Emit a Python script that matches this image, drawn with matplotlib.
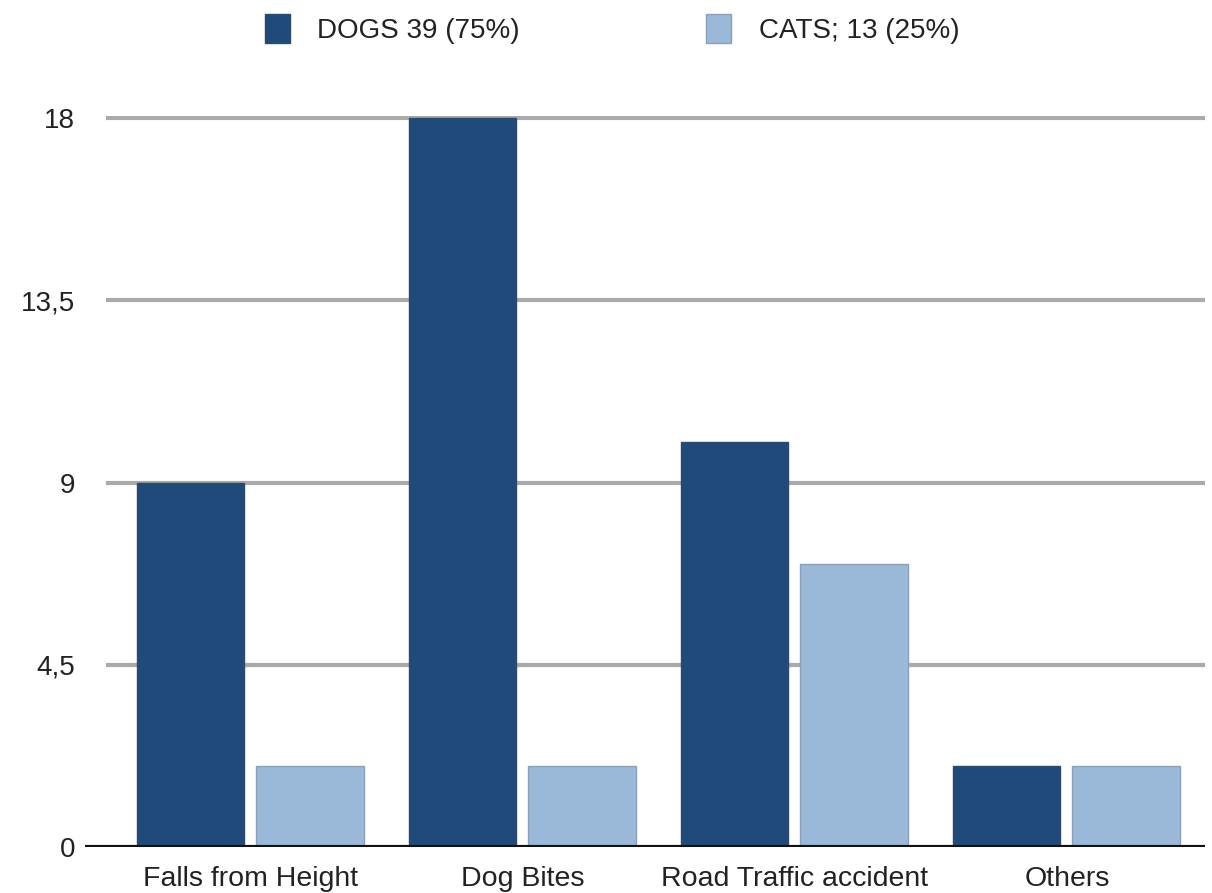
#!/usr/bin/env python3
"""Dog vs cat injuries by cause - grouped bar chart."""

import numpy as np
import matplotlib
matplotlib.use("Agg")
import matplotlib.pyplot as plt
from matplotlib.patches import Patch

plt.rcParams["font.family"] = ["Liberation Sans", "DejaVu Sans"]

categories = ["Falls from Height", "Dog Bites", "Road Traffic accident", "Others"]
dogs = [9, 18, 10, 2]
cats = [2, 2, 7, 2]
series_labels = ["DOGS 39 (75%)", "CATS; 13 (25%)"]
y_ticks = [0, 4.5, 9, 13.5, 18]
y_tick_labels = ["0", "4,5", "9", "13,5", "18"]

dog_color = "#1f4a7a"
cat_color = "#9ab8d8"

fig = plt.figure(figsize=(12.12, 8.93), dpi=100)
ax = fig.add_axes([0.0701, 0.0515, 0.9241, 0.8185])

x = np.arange(len(categories))
width = 0.395
ax.bar(x - 0.222, dogs, width, color=dog_color, edgecolor="#2a4a6e", linewidth=1, zorder=3)
ax.bar(x + 0.217, cats, width, color=cat_color, edgecolor="#8aa0b8", linewidth=1, zorder=3)

xmin, xmax = -0.61, 3.507
ax.set_xlim(xmin, xmax)
ax.set_ylim(0, 18.05)

# grid lines start a bit right of the baseline
ax.hlines(y_ticks[1:], -0.533, xmax, color="#aaaaaa", linewidth=3, zorder=1)
ax.axhline(0, color="#111111", linewidth=3, zorder=4)

for s in ax.spines.values():
    s.set_visible(False)

ax.set_yticks(y_ticks)
ax.set_yticklabels(y_tick_labels, fontsize=20, color="#222222")
ax.set_xticks(x)
ax.set_xticklabels(categories, fontsize=20.5, color="#222222")
ax.tick_params(axis="both", length=0)
ax.tick_params(axis="y", pad=7)
ax.tick_params(axis="x", pad=14)

handles = [Patch(facecolor=dog_color, edgecolor="#2a4a6e"),
           Patch(facecolor=cat_color, edgecolor="#8aa0b8")]
fig.legend(handles, series_labels, loc="upper center", bbox_to_anchor=(0.505, 1.012),
           ncol=2, frameon=False, fontsize=20, labelcolor="#222222",
           handlelength=0.9, handleheight=1.2, handletextpad=1.0, columnspacing=6.7)

plt.savefig("out.png", dpi=100)
plt.close()
